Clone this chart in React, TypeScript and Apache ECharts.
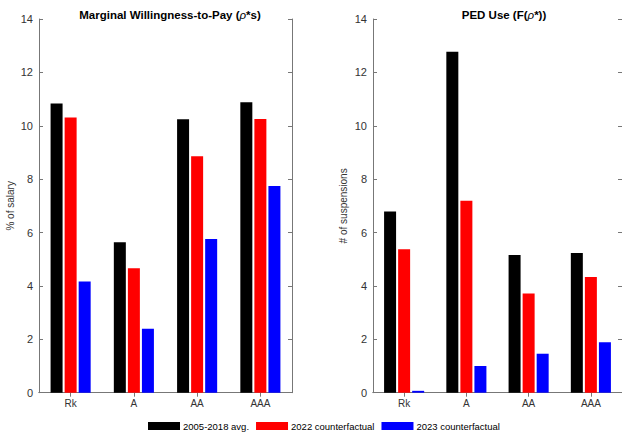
import React, { useEffect, useRef } from "react";
import * as echarts from "echarts";

const categories = ["Rk", "A", "AA", "AAA"];
const seriesNames = ["2005-2018 avg.", "2022 counterfactual", "2023 counterfactual"];
const colors = ["#000000", "#ff0000", "#0000ff"];
const wtpAvg = [10.83, 5.64, 10.24, 10.88];
const wtp2022 = [10.31, 4.66, 8.86, 10.25];
const wtp2023 = [4.17, 2.4, 5.76, 7.74];
const pedAvg = [6.79, 12.77, 5.16, 5.23];
const ped2022 = [5.37, 7.19, 3.72, 4.33];
const ped2023 = [0.07, 1.0, 1.46, 1.89];
const yTicks = { min: 0, max: 14, interval: 2 };

export default function App() {
  const ref = useRef<HTMLDivElement>(null);
  useEffect(() => {
    const chart = echarts.init(ref.current!, null, { renderer: "svg" });
    const font = "Liberation Sans, Arial, sans-serif";
    const lineColor = "#777";
    const grids = [
      { left: 39, top: 19, width: 253, height: 373.7 },
      { left: 373, top: 19, width: 253, height: 373.7 },
    ];
    const xAxes: any[] = [];
    const yAxes: any[] = [];
    const yNames = ["% of salary", "# of suspensions"];
    const yGaps = [24, 25];
    grids.forEach((_, i) => {
      xAxes.push({
        type: "category",
        gridIndex: i,
        data: categories,
        position: "bottom",
        axisLine: { show: true, lineStyle: { color: lineColor, width: 1 } },
        axisTick: { show: true, inside: true, alignWithLabel: true, length: 4, lineStyle: { color: lineColor } },
        axisLabel: { color: "#333", fontSize: 10, fontFamily: font, margin: 6 },
      });
      xAxes.push({
        type: "category",
        gridIndex: i,
        data: categories,
        position: "top",
        axisLine: { show: true, lineStyle: { color: lineColor, width: 1 } },
        axisTick: { show: true, inside: true, alignWithLabel: true, length: 4, lineStyle: { color: lineColor } },
        axisLabel: { show: false },
      });
      yAxes.push({
        type: "value",
        gridIndex: i,
        position: "left",
        ...yTicks,
        name: yNames[i],
        nameLocation: "middle",
        nameGap: yGaps[i],
        nameTextStyle: { color: "#333", fontSize: 10, fontFamily: font },
        axisLine: { show: true, lineStyle: { color: lineColor, width: 1 } },
        axisTick: { show: true, inside: true, length: 4, lineStyle: { color: lineColor } },
        axisLabel: { color: "#333", fontSize: 11, fontFamily: font, margin: 6 },
        splitLine: { show: false },
      });
      yAxes.push({
        type: "value",
        gridIndex: i,
        position: "right",
        ...yTicks,
        axisLine: { show: true, lineStyle: { color: lineColor, width: 1 } },
        axisTick: { show: true, inside: true, length: 4, lineStyle: { color: lineColor } },
        axisLabel: { show: false },
        splitLine: { show: false },
      });
    });
    const data = [
      [wtpAvg, wtp2022, wtp2023],
      [pedAvg, ped2022, ped2023],
    ];
    const series: any[] = [];
    data.forEach((group, gi) => {
      group.forEach((vals, si) => {
        series.push({
          type: "bar",
          name: seriesNames[si],
          xAxisIndex: gi * 2,
          yAxisIndex: gi * 2,
          data: vals,
          barWidth: 12,
          barGap: "17%",
          itemStyle: { color: colors[si] },
        });
      });
    });
    const titleStyle = {
      fontSize: 11.5,
      fontWeight: "bold",
      fontFamily: font,
      color: "#000",
      rich: { i: { fontStyle: "italic", fontSize: 11.5, fontWeight: "normal", fontFamily: font } },
    };
    chart.setOption({
      animation: false,
      backgroundColor: "#fff",
      title: [
        { text: "Marginal Willingness-to-Pay ({i|ρ}*s)", left: 165, top: 4, textAlign: "center", textStyle: titleStyle },
        { text: "PED Use (F({i|ρ}*))", left: 499, top: 4, textAlign: "center", textStyle: titleStyle },
      ],
      legend: {
        data: seriesNames,
        left: 148,
        top: 421,
        padding: 0,
        itemWidth: 32,
        itemHeight: 8,
        itemGap: 7,
        icon: "rect",
        textStyle: { fontSize: 9.5, fontFamily: font, color: "#000", padding: [0, 0, 0, -2] },
      },
      grid: grids,
      xAxis: xAxes,
      yAxis: yAxes,
      series,
    });
    return () => chart.dispose();
  }, []);
  return <div ref={ref} style={{ width: 622, height: 434, position: "absolute", left: 0, top: 0 }} />;
}
